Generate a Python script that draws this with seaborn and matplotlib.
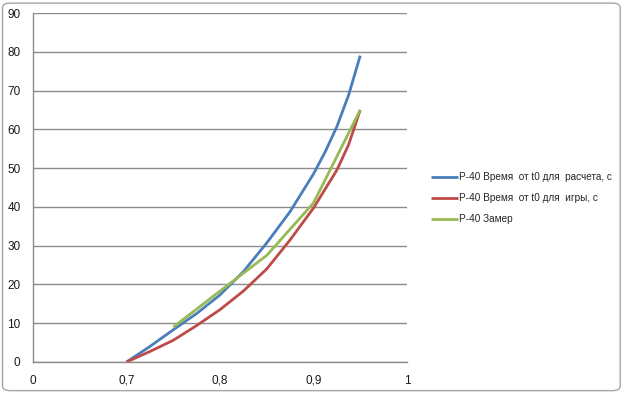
# P-40: время от t0, расчет / игра / замер

import matplotlib
matplotlib.use("Agg")
import matplotlib.pyplot as plt
from matplotlib.patches import FancyBboxPatch
import seaborn as sns
import pandas as pd
import numpy as np

# data
x_calc = [0.7, 0.725, 0.75, 0.775, 0.8, 0.825, 0.85, 0.875, 0.9, 0.9125, 0.925, 0.9375, 0.95]
y_calc = [0, 4, 8.3, 12.5, 17.3, 23.3, 30.7, 38.8, 48.5, 54.2, 60.7, 68.8, 79]
x_game = [0.7, 0.725, 0.75, 0.775, 0.8, 0.825, 0.85, 0.875, 0.9, 0.925, 0.9375, 0.95]
y_game = [0, 2.7, 5.6, 9.4, 13.5, 18.3, 24, 31.5, 39.7, 49.5, 56, 65]
x_meas = [0.75, 0.8, 0.85, 0.9, 0.95]
y_meas = [9, 18.3, 27.5, 41, 65]

names = ["Р-40 Время  от t0 для  расчета, с",
         "Р-40 Время  от t0 для  игры, с",
         "Р-40 Замер"]
colors = ["#4A7EBB", "#BE4B48", "#98B954"]

xticks = [0, 0.7, 0.8, 0.9, 1]
xtick_labels = ["0", "0,7", "0,8", "0,9", "1"]
yticks = list(range(0, 100, 10))

df_calc = pd.DataFrame({"x": x_calc, "y": y_calc})
df_game = pd.DataFrame({"x": x_game, "y": y_game})
df_meas = pd.DataFrame({"x": x_meas, "y": y_meas})

sns.set_style("white")
plt.rcParams["font.family"] = ["Liberation Sans", "DejaVu Sans"]

fig = plt.figure(figsize=(6.24, 3.93), dpi=100)
ax = fig.add_axes([33 / 624, 31 / 393, 374 / 624, 349 / 393])


# excel category axis: 0 -> 0.7 takes the same width as 0.7 -> 0.8
def fwd(x):
    x = np.asarray(x, dtype=float)
    return np.where(x < 0.7, x / 0.7, 1 + (x - 0.7) * 10)


def inv(u):
    u = np.asarray(u, dtype=float)
    return np.where(u < 1, u * 0.7, 0.7 + (u - 1) / 10)


ax.set_xscale("function", functions=(fwd, inv))

for d, name, c in zip([df_calc, df_game, df_meas], names, colors):
    sns.lineplot(data=d, x="x", y="y", ax=ax, color=c, linewidth=2,
                 label=name, solid_capstyle="butt", solid_joinstyle="round")

ax.set_xlim(0, 1)
ax.set_ylim(0, 90)
ax.set_xticks(xticks)
ax.set_xticklabels(xtick_labels)
ax.set_yticks(yticks)
ax.set_xlabel("")
ax.set_ylabel("")

ax.yaxis.grid(True, color="#8C8C8C", linewidth=1)
ax.xaxis.grid(False)
ax.set_axisbelow(True)
for s in ["top", "right"]:
    ax.spines[s].set_visible(False)
for s in ["left", "bottom"]:
    ax.spines[s].set_color("#8C8C8C")
    ax.spines[s].set_linewidth(1)

ax.tick_params(axis="both", colors="#8C8C8C", labelcolor="#1A1A1A",
               labelsize=8.5, length=4, width=1, direction="out")
ax.tick_params(axis="y", pad=5)
ax.tick_params(axis="x", pad=5)

ax.get_legend().remove()
handles, labels = ax.get_legend_handles_labels()
fig.legend(handles, labels, loc="upper left",
           bbox_to_anchor=(427 / 624, 1 - 168 / 393),
           frameon=False, fontsize=7.2, handlelength=2.7,
           handletextpad=0.1, labelspacing=1.1, borderaxespad=0)

# rounded chart frame
fig.patches.append(FancyBboxPatch((0.004, 0.006), 0.99, 0.986,
                                  boxstyle="round,pad=0,rounding_size=0.012",
                                  transform=fig.transFigure, fill=False,
                                  edgecolor="#A6A6A6", linewidth=1))

fig.savefig("out.png", dpi=100)
